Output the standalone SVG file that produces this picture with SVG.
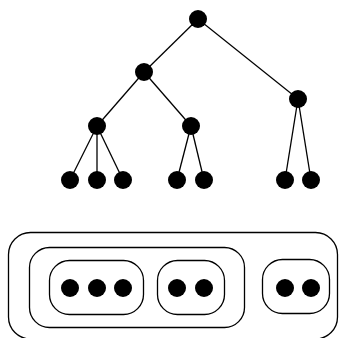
<svg xmlns="http://www.w3.org/2000/svg" width="339" height="338" viewBox="0 0 339 338">
<style>
.n{fill:#000}
.e{stroke:#000;stroke-width:1.3;fill:none}
.b{stroke:#000;stroke-width:1.3;fill:none}
</style>
<rect width="339" height="338" fill="#fff"/>
<g id="edges">
<line class="e" x1="198" y1="19" x2="144" y2="72"/>
<line class="e" x1="198" y1="19" x2="298" y2="99"/>
<line class="e" x1="144" y1="72" x2="97" y2="126"/>
<line class="e" x1="144" y1="72" x2="191" y2="126"/>
<line class="e" x1="97" y1="126" x2="70" y2="180"/>
<line class="e" x1="97" y1="126" x2="97" y2="180"/>
<line class="e" x1="97" y1="126" x2="123" y2="180"/>
<line class="e" x1="191" y1="126" x2="177" y2="180"/>
<line class="e" x1="191" y1="126" x2="204" y2="180"/>
<line class="e" x1="298" y1="99" x2="285" y2="180"/>
<line class="e" x1="298" y1="99" x2="311" y2="180"/>
</g>
<g id="root"><circle class="n" cx="198" cy="19" r="9"/></g>
<g id="a"><circle class="n" cx="144" cy="72" r="9"/></g>
<g id="b"><circle class="n" cx="298" cy="99" r="9"/></g>
<g id="c"><circle class="n" cx="97" cy="126" r="9"/></g>
<g id="d"><circle class="n" cx="191" cy="126" r="9"/></g>
<g id="l1"><circle class="n" cx="70" cy="180" r="9"/></g>
<g id="l2"><circle class="n" cx="97" cy="180" r="9"/></g>
<g id="l3"><circle class="n" cx="123" cy="180" r="9"/></g>
<g id="l4"><circle class="n" cx="177" cy="180" r="9"/></g>
<g id="l5"><circle class="n" cx="204" cy="180" r="9"/></g>
<g id="l6"><circle class="n" cx="285" cy="180" r="9"/></g>
<g id="l7"><circle class="n" cx="311" cy="180" r="9"/></g>
<g id="sets">
<rect class="b" x="8.5" y="232.5" width="329" height="106.5" rx="22"/>
<rect class="b" x="29.5" y="247.5" width="215" height="80" rx="20"/>
<rect class="b" x="49.5" y="260.5" width="94" height="54" rx="20"/>
<rect class="b" x="157.5" y="260.5" width="67" height="54" rx="20"/>
<rect class="b" x="262.5" y="259.5" width="67" height="54" rx="20"/>
</g>
<g id="s1"><circle class="n" cx="70" cy="288" r="9"/></g>
<g id="s2"><circle class="n" cx="97" cy="288" r="9"/></g>
<g id="s3"><circle class="n" cx="123" cy="288" r="9"/></g>
<g id="s4"><circle class="n" cx="177" cy="288" r="9"/></g>
<g id="s5"><circle class="n" cx="204" cy="288" r="9"/></g>
<g id="s6"><circle class="n" cx="285" cy="288" r="9"/></g>
<g id="s7"><circle class="n" cx="311" cy="288" r="9"/></g>
</svg>
